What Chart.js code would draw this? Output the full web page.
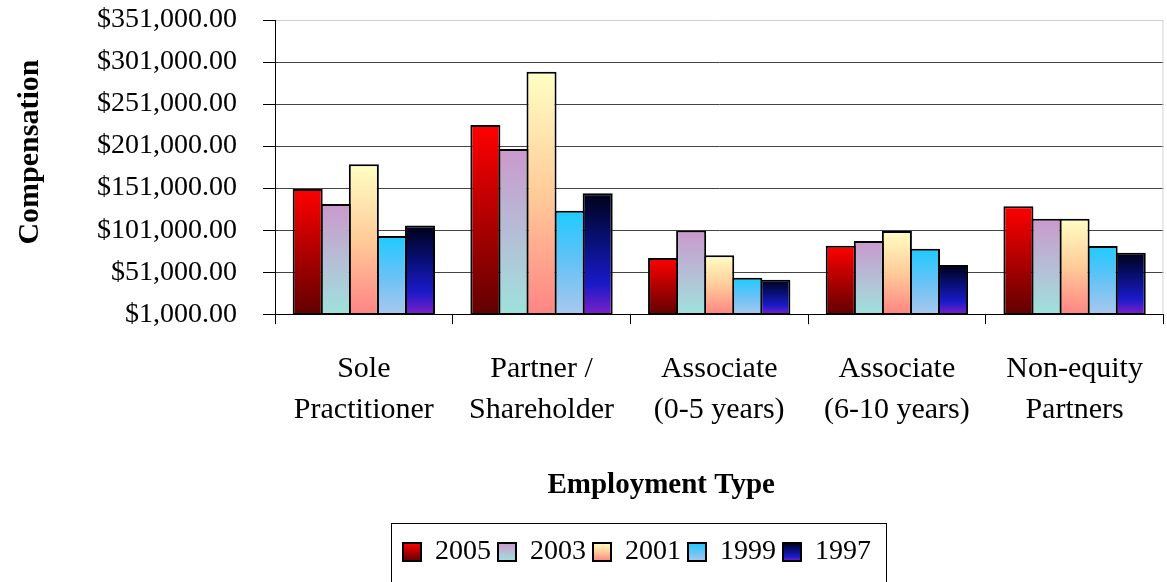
<!DOCTYPE html>
<html><head><meta charset="utf-8">
<script src="https://cdn.jsdelivr.net/npm/chart.js@4/dist/chart.umd.min.js"></script>
<style>html,body{margin:0;padding:0;background:#fff;}#wrap{width:1167px;height:582px;}</style>
</head><body><div id="wrap"><canvas id="c" width="1167" height="582"></canvas></div>
<script>
const categories = [['Sole','Practitioner'],['Partner /','Shareholder'],['Associate','(0-5 years)'],['Associate','(6-10 years)'],['Non-equity','Partners']];
const seriesNames = ['2005','2003','2001','1999','1997'];
const values2005 = [150000, 226000, 68000, 82500, 129500];
const values2003 = [132000, 197500, 100500, 88000, 114500];
const values2001 = [179500, 289500, 71000, 100000, 114500];
const values1999 = [94000, 124000, 44500, 79000, 82000];
const values1997 = [106500, 145000, 42000, 59500, 74000];
const yTicks = [1000, 51000, 101000, 151000, 201000, 251000, 301000, 351000];
const yTitle = 'Compensation';
const xTitle = 'Employment Type';

const FONT = "'Liberation Serif', 'Times New Roman', serif";
const gradStops = [
  [[0,'#FF0000'],[0.5,'#B00000'],[1,'#620000']],
  [[0,'#CA99CC'],[0.5,'#B6BDD6'],[1,'#9EE2DC']],
  [[0,'#FFFFC4'],[0.5,'#FFCC99'],[1,'#FF8484']],
  [[0,'#1ECBFF'],[0.5,'#66C2F6'],[1,'#A8C8EE']],
  [[0,'#000018'],[0.4,'#081078'],[0.75,'#1A1AC8'],[1,'#7C20C8']]
];
function makeGrad(g2d, top, bottom, stops){
  const g = g2d.createLinearGradient(0, top, 0, bottom);
  stops.forEach(s => g.addColorStop(s[0], s[1]));
  return g;
}
function barFill(c){
  const stops = gradStops[c.datasetIndex];
  const chart = c.chart;
  if (c.type !== 'data' || !chart.chartArea || !chart.scales.y) return stops[1][1];
  const top = chart.scales.y.getPixelForValue(c.raw);
  return makeGrad(chart.ctx, top, chart.chartArea.bottom, stops);
}
const allValues = [values2005, values2003, values2001, values1999, values1997];

const decor = {
  id: 'decor',
  afterLayout(chart){
    const lg = chart.legend;
    const shift = 637 - (lg.left + lg.right) / 2;
    lg.left += shift; lg.right += shift;
  },
  beforeDatasetsDraw(chart){
    const {ctx, chartArea: a} = chart;
    ctx.save();
    ctx.strokeStyle = '#d4d4d4'; ctx.lineWidth = 1;
    ctx.beginPath(); ctx.moveTo(a.right - 0.5, a.top); ctx.lineTo(a.right - 0.5, a.bottom); ctx.stroke();
    ctx.restore();
  },
  afterDraw(chart){
    const ctx = chart.ctx, lg = chart.legend;
    const lo = lg.options.labels;
    const p = lo.padding, fs = lo.font.size, bw = lo.boxWidth, bh = lo.boxHeight;
    let x = (lg.left + p + lg.right - lg.lineWidths[0]) / 2;
    const y = lg.top + p + Math.max((fs - bh) / 2, 0);
    ctx.save();
    ctx.strokeStyle = '#000'; ctx.lineWidth = 1;
    ctx.strokeRect(Math.round(x - 12) + 0.5, Math.round(lg.top - 8) + 0.5, Math.round(lg.lineWidths[0] + 20), 120);
    lg.legendHitBoxes.forEach((hb, i) => {
      ctx.fillStyle = makeGrad(ctx, y, y + bh, gradStops[i]);
      ctx.fillRect(x, y, bw, bh);
      ctx.lineWidth = 2; ctx.strokeStyle = '#000';
      ctx.strokeRect(x, y, bw, bh);
      x += hb.width + p;
    });
    ctx.restore();
  }
};

new Chart(document.getElementById('c'), {
  type: 'bar',
  data: {
    labels: categories,
    datasets: seriesNames.map((n, i) => ({
      label: n,
      data: allValues[i],
      backgroundColor: barFill,
      borderColor: '#000',
      borderWidth: 2,
      borderSkipped: false,
      categoryPercentage: 0.79,
      barPercentage: 1.07
    }))
  },
  options: {
    responsive: false, animation: false, devicePixelRatio: 1, events: [],
    layout: {padding: {top: 0, right: 1, bottom: 6, left: 0}},
    plugins: {
      legend: {position: 'bottom', labels: {font: {family: FONT, size: 28}, color: '#000', boxWidth: 18, boxHeight: 18, padding: 7}},
      tooltip: {enabled: false}
    },
    scales: {
      x: {
        grid: {offset: true, drawOnChartArea: false, tickLength: 10, color: '#000'},
        border: {color: '#000', width: 1},
        ticks: {font: {family: FONT, size: 30, lineHeight: '41px'}, color: '#000', padding: 24, maxRotation: 0, autoSkip: false},
        title: {display: true, text: xTitle + ' '.repeat(16), font: {family: FONT, size: 29, weight: 'bold'}, color: '#000', padding: {top: 14, bottom: 28}}
      },
      y: {
        min: 1000, max: 351000,
        afterBuildTicks: s => { s.ticks = yTicks.map(v => ({value: v})); },
        afterFit: s => { s.width = 275; s.paddingTop = 20; s.paddingBottom = 0; },
        grid: {color: c => (c.tick && c.tick.value === 351000) ? '#d0d0d0' : '#444', tickColor: '#000', tickLength: 12},
        border: {color: '#000', width: 1},
        ticks: {padding: 26, font: {family: FONT, size: 28, lineHeight: 1.0}, color: '#000',
          callback: v => '$' + Number(v).toLocaleString('en-US', {minimumFractionDigits: 2, maximumFractionDigits: 2})},
        title: {display: true, text: '    ' + yTitle, font: {family: FONT, size: 30, weight: 'bold'}, color: '#000', padding: {top: 12, bottom: 0}}
      }
    }
  },
  plugins: [decor]
});
</script></body></html>
